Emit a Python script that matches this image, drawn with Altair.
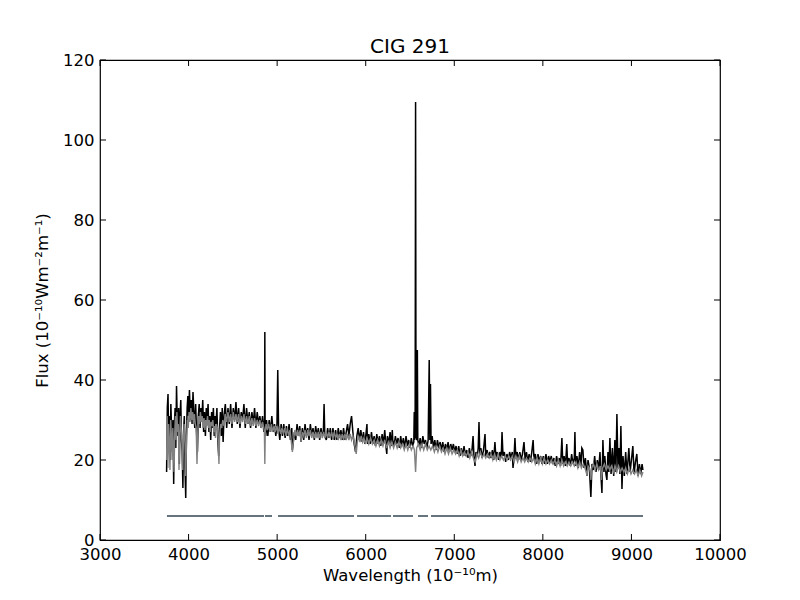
import altair as alt
import pandas as pd

black_blue = [[3752,17],[3760,33],[3768,36.5],[3776,24],[3784,31],[3792,20],[3800,34],[3808,28],[3816,22],[3824,30],
 [3832,14],[3840,29],[3848,33],[3856,23],[3864,38.5],[3872,30],[3880,26],[3888,33],[3896,19],[3904,31],[3912,35],
 [3920,25],[3928,22],[3936,13],[3944,27],[3952,31],[3960,18],[3968,10.5],[3976,26],[3984,33],[3992,36],[4000,31],
 [4010,37.5],[4020,30],[4030,35],[4040,29],[4050,37],[4060,32],[4070,28],[4080,34],[4090,27],[4100,22],[4110,31],
 [4120,34],[4130,28],[4140,33],[4150,30],[4160,35],[4170,27],[4180,32],[4190,26],[4200,33],[4210,29],[4220,34],
 [4230,27],[4240,31],[4250,25],[4260,32],[4270,28],[4280,33],[4290,26],[4300,31],[4310,29],[4320,33],[4330,25],
 [4340,21],[4350,28],[4360,32],[4370,26],[4380,33],[4390,24.5],[4400,31]]
black_mid = [[4415,34],[4430,28],[4445,33],[4460,29],[4475,34],[4490,28],[4505,33],[4520,30],[4535,34.5],[4550,29],
 [4565,33],[4580,28],[4595,32],[4610,30],[4625,34],[4640,28],[4655,33],[4670,29],[4685,32],[4700,28],[4715,32],
 [4730,29],[4745,33],[4760,28],[4775,32],[4790,29],[4805,31],[4820,28],[4835,31],[4850,27],[4858,30],[4861,52],
 [4864,29],[4872,26],[4880,30],[4895,26],[4910,30],[4925,27],[4940,31],[4955,27],[4970,29],[4985,26],[4998,29],
 [5007,42.5],[5016,28],[5030,25],[5045,29],[5060,26],[5075,29],[5090,25.5],[5105,28.5],[5120,26],[5135,29],
 [5150,25],[5165,28],[5172,22.5],[5180,24],[5195,27],[5210,25],[5225,29],[5240,26],[5255,28.5],[5270,24.5],
 [5285,28],[5300,25],[5315,29],[5330,26],[5345,28],[5360,25],[5375,29],[5390,26],[5405,28],[5420,25],[5435,28.5],
 [5450,26],[5465,28],[5480,25],[5495,28],[5510,26],[5522,27],[5530,34],[5538,26],[5555,25],[5570,28],[5585,25.5],
 [5600,28],[5615,25],[5630,28],[5645,25],[5660,27.5],[5675,25],[5690,28],[5705,25.5],[5720,27.5],[5735,25],
 [5750,28],[5765,25],[5780,27],[5795,29],[5810,26],[5825,29],[5840,31],[5855,27],[5870,24],[5885,22],[5900,26],
 [5915,28],[5930,25],[5945,27.5],[5960,24.5],[5975,27],[5990,24]]
black_halpha = [[6005,27],[6014,29],[6020,24],[6035,26.5],[6050,24],[6065,27],[6080,24],[6095,26],[6110,23.5],
 [6125,26.5],[6140,24],[6155,26],[6170,23.5],[6185,26.5],[6200,24],[6215,27.5],[6230,23],[6238,21.5],[6245,26],
 [6260,24],[6275,27],[6290,23.5],[6300,27.5],[6305,25],[6320,23.5],[6335,26],[6350,24],[6365,25.5],[6380,23],
 [6395,26],[6410,23.5],[6425,25.5],[6440,23],[6455,26],[6470,23.5],[6485,25],[6500,23],[6515,25.5],[6530,23.5],
 [6543,24.5],[6548,32],[6552,25],[6558,26],[6563,109.5],[6568,26],[6578,25],[6583,47.5],[6588,25],[6600,23.5],
 [6615,25.5],[6630,23],[6645,26],[6660,24],[6675,25],[6690,23],[6705,25],[6717,45],[6724,25],[6731,39],[6738,24],
 [6750,26],[6765,23],[6780,25],[6795,22.5],[6810,25],[6825,23],[6840,24.5],[6855,22.5],[6870,24.5],[6885,22],
 [6900,24],[6915,22.5],[6930,24.5],[6945,22],[6960,24],[6975,22.5],[6990,24],[7005,22],[7020,23.5]]
black_red = [[7035,21.5],[7050,23.5],[7065,21],[7080,23],[7095,21],[7110,23.5],[7125,21],[7140,22.5],[7155,20.5],
 [7170,23],[7185,21],[7200,22.5],[7212,26],[7222,21],[7234,18.5],[7245,22],[7260,21],[7270,23],[7279,29.5],
 [7288,21.5],[7300,23],[7315,20.5],[7330,22.5],[7347,26.5],[7355,21],[7370,22.5],[7385,20.5],[7400,22],[7415,20.5],
 [7430,22.5],[7445,20],[7459,24.5],[7470,20.5],[7485,22],[7500,20],[7515,22],[7530,20.5],[7539,27],[7550,21],
 [7565,22],[7580,19.5],[7595,21.5],[7610,20],[7625,22],[7640,20.5],[7655,22],[7663,18],[7675,21],[7685,25.5],
 [7695,20.5],[7710,22],[7725,20],[7740,22],[7755,20],[7770,21.5],[7787,24.5],[7800,20],[7815,22],[7830,19.5],
 [7845,21.5],[7860,19.5],[7875,22],[7890,25],[7900,20],[7915,21.5],[7930,19],[7945,21.5],[7960,19.5],[7975,21],
 [7990,19],[8005,21],[8020,19],[8035,21.5],[8050,19],[8065,21],[8080,19.5],[8095,21],[8110,19],[8125,20.5],
 [8140,18.5],[8155,21],[8170,19],[8185,20.5],[8200,18.5],[8215,25.5],[8225,19],[8240,21],[8255,18.5],[8270,24],
 [8280,19],[8295,20.5],[8310,18.5],[8325,21.5],[8340,19],[8355,20.5],[8362,27],[8370,18.5],[8385,21],[8400,18],
 [8415,22],[8430,18.5],[8440,23],[8452,22.5],[8465,18],[8480,20.5],[8498,16],[8510,20],[8525,18],[8542,10.75],
 [8555,19],[8570,17.5],[8585,21],[8600,17],[8615,20],[8630,17.5],[8645,22],[8655,16.5],[8667,11.75],[8678,25],
 [8690,17],[8700,21],[8712,16.5],[8723,15],[8735,22],[8745,17],[8757,25.5],[8770,16.5],[8785,23],[8800,16],
 [8813,25],[8825,17],[8836,31.5],[8848,18],[8860,23],[8870,16.5],[8881,28.5],[8893,12.75],[8905,21],[8920,16],
 [8935,22],[8950,16.5],[8971,23],[8985,17],[9000,20],[9016,23.5],[9030,16.5],[9045,19.5],[9061,21.5],[9075,16],
 [9090,19],[9105,16.5],[9120,19],[9130,17.5]]

# ---- model spectrum (grey)
gray_blue = [[3752,20],[3758,31],[3766,18],[3774,29],[3782,24],[3790,17.5],[3798,30],[3806,26],[3814,20],[3822,28],
 [3830,22],[3836,17],[3844,27],[3852,31],[3860,25],[3868,32],[3876,27],[3884,29],[3892,17.5],[3900,26],[3908,31],
 [3916,28],[3926,24],[3934,17.5],[3942,25],[3950,29],[3960,24],[3968,16],[3976,24],[3986,30],[3996,28],[4006,32],
 [4016,29.5],[4026,33],[4036,30],[4046,32],[4056,29],[4066,31.5],[4076,29],[4086,28],[4095,19],[4104,27],[4114,31],
 [4124,29],[4134,32],[4144,29.5],[4154,31],[4164,28],[4174,30.5],[4184,27.5],[4194,30],[4204,28.5],[4214,31],
 [4224,28],[4234,30],[4244,27],[4254,29.5],[4264,28.5],[4274,30],[4284,27],[4294,28.5],[4304,25.5],[4314,29],
 [4326,28],[4336,24],[4343,19],[4350,26],[4362,29],[4374,28],[4386,30],[4400,28.5]]
gray_mid = [[4415,31.5],[4430,29.5],[4445,32],[4460,29.5],[4475,31.5],[4490,29],[4505,32],[4520,29.5],[4535,31.5],
 [4550,29.5],[4565,31.5],[4580,29],[4595,31],[4610,29.5],[4625,31.5],[4640,29],[4655,31],[4670,29],[4685,31],
 [4700,28.5],[4715,30.5],[4730,28.5],[4745,30.5],[4760,28.5],[4775,30],[4790,28.5],[4805,30],[4820,28],[4835,29.5],
 [4850,28],[4856,27],[4861,19],[4866,27],[4875,29],[4890,27.5],[4905,29],[4920,27],[4935,29],[4950,27],[4965,28.5],
 [4980,27],[4995,28.5],[5010,26.5],[5025,28.5],[5040,26.5],[5055,28],[5070,26.5],[5085,28],[5100,26],[5115,28],
 [5130,26],[5145,27.5],[5160,24.5],[5172,22],[5185,25],[5200,27.5],[5215,26],[5230,27.5],[5245,26],[5260,27.5],
 [5270,24.5],[5285,27],[5300,26],[5315,27.5],[5330,25.5],[5345,27.5],[5360,26],[5375,27.5],[5390,25.5],[5405,27],
 [5420,25.5],[5435,27],[5450,25.5],[5465,27],[5480,25.5],[5495,27],[5510,25.5],[5525,27],[5540,25.5],[5555,27],
 [5570,25.5],[5585,27],[5600,25.5],[5615,27],[5630,25.5],[5645,27],[5660,25.5],[5675,26.5],[5690,25],[5705,26.5],
 [5720,25],[5735,26.5],[5750,25],[5765,26.5],[5780,25],[5795,26.5],[5810,25],[5825,26.5],[5840,25],[5855,26],
 [5870,24.5],[5885,22.5],[5893,21.5],[5905,24.5],[5920,26],[5935,24.5],[5950,26],[5965,24.5],[5980,25.5],[5995,24]]
gray_red = [[6015,25.5],[6035,24],[6055,25.5],[6075,24],[6095,25],[6115,23.5],[6135,25],[6155,23.5],[6175,25],
 [6195,23.5],[6215,25],[6235,23],[6255,24.5],[6275,23],[6295,24.5],[6315,23],[6335,24.5],[6355,23],[6375,24.5],
 [6395,23],[6415,24],[6435,22.5],[6455,24],[6475,22.5],[6495,24],[6515,22.5],[6535,23.5],[6550,22.5],[6563,17],
 [6575,23],[6595,24],[6615,22.5],[6635,24],[6655,22.5],[6675,24],[6695,22.5],[6715,23.5],[6735,22.5],[6755,23.5],
 [6775,22],[6795,23.5],[6815,22],[6835,23.5],[6855,22],[6875,23],[6895,21.5],[6915,23],[6935,21.5],[6955,23],
 [6975,21.5],[6995,22.5],[7015,21.5],[7035,22.5],[7055,21],[7075,22.5],[7095,21],[7115,22],[7135,21],[7155,22],
 [7175,20.5],[7195,22],[7215,20.5],[7235,19.5],[7255,21.5],[7275,20.5],[7295,22],[7315,20.5],[7335,21.5],
 [7355,20.5],[7375,21.5],[7395,20.5],[7415,21.5],[7435,20],[7455,21.5],[7475,20],[7495,21.5],[7515,20],[7535,21],
 [7555,20],[7575,21],[7595,20],[7615,21],[7635,20],[7655,21],[7675,19.5],[7695,21],[7715,19.5],[7735,21],
 [7755,19.5],[7775,20.5],[7795,19.5],[7815,20.5],[7835,19.5],[7855,20.5],[7875,19.5],[7895,20.5],[7915,19],
 [7935,20.5],[7955,19],[7975,20.5],[7995,19],[8015,20.5],[8035,19],[8055,20],[8075,19],[8095,20],[8115,19],
 [8135,20],[8155,18.5],[8175,20],[8195,18.5],[8215,20],[8235,18.5],[8255,19.5],[8275,18.5],[8295,19.5],[8315,18.5],
 [8335,19.5],[8355,18.5],[8375,19.5],[8395,18],[8415,19.5],[8435,18],[8455,19],[8475,18],[8490,17],[8498,16],
 [8510,18.5],[8525,18],[8535,17],[8542,15],[8552,18],[8570,19],[8590,17.5],[8610,19],[8630,17.5],[8650,18.5],
 [8662,15],[8675,18],[8695,19],[8715,17.5],[8735,18.5],[8755,17.5],[8775,18.5],[8795,17],[8815,18.5],[8835,17],
 [8855,18.5],[8875,17],[8895,18],[8915,17],[8935,18],[8955,16.5],[8975,18],[8995,16.5],[9015,17.5],[9035,16.5],
 [9055,17.5],[9075,16],[9095,17.5],[9115,16],[9130,17]]

# ---- masked-region bar at flux 6 (segment start / end wavelengths)
mask_start = [3756, 4863, 5010, 5902, 6308, 6590, 6737]
mask_end   = [4852, 4942, 5868, 6286, 6534, 6703, 9131]
mask_level = 6

x_ticks = [3000, 4000, 5000, 6000, 7000, 8000, 9000, 10000]
y_ticks = [0, 20, 40, 60, 80, 100, 120]

W, H = 620, 480
FONT = "DejaVu Sans"

black = pd.DataFrame(black_blue + black_mid + black_halpha + black_red, columns=["w", "f"])
gray = pd.DataFrame(gray_blue + gray_mid + gray_red, columns=["w", "f"])
mask = pd.DataFrame({"s": mask_start, "e": mask_end, "y": [mask_level] * len(mask_start)})
xt = pd.DataFrame({"t": x_ticks})
yt = pd.DataFrame({"t": y_ticks})

xscale = alt.Scale(domain=[3000, 10000], nice=False, zero=False)
yscale = alt.Scale(domain=[0, 120], nice=False)

xaxis = alt.Axis(values=x_ticks, format="d", grid=False, ticks=False, domain=False,
                 labelFont=FONT, labelFontSize=16.5, labelColor="black", labelPadding=6,
                 labelFlush=False, labelOverlap=False,
                 title="Wavelength (10⁻¹⁰m)", titleFont=FONT, titleFontSize=16.5,
                 titleFontWeight="normal", titleColor="black", titlePadding=5)
yaxis = alt.Axis(values=y_ticks, grid=False, ticks=False, domain=False,
                 labelFont=FONT, labelFontSize=16.5, labelColor="black", labelPadding=6,
                 labelFlush=False, labelOverlap=False,
                 title="Flux (10⁻¹⁰Wm⁻²m⁻¹)", titleFont=FONT, titleFontSize=16.5,
                 titleFontWeight="normal", titleColor="black", titlePadding=12)

obs = alt.Chart(black).mark_line(color="black", strokeWidth=1.5).encode(
    x=alt.X("w:Q", scale=xscale, axis=xaxis),
    y=alt.Y("f:Q", scale=yscale, axis=yaxis),
)
model = alt.Chart(gray).mark_line(color="#808080", strokeWidth=1.4).encode(
    x=alt.X("w:Q", scale=xscale), y=alt.Y("f:Q", scale=yscale))
bars = alt.Chart(mask).mark_rule(color="#66757d", strokeWidth=2).encode(
    x=alt.X("s:Q", scale=xscale), x2="e:Q", y=alt.Y("y:Q", scale=yscale))

tick_bottom = alt.Chart(xt).mark_rule(color="black", strokeWidth=1).encode(
    x=alt.X("t:Q", scale=xscale), y=alt.value(H), y2=alt.value(H - 6))
tick_top = alt.Chart(xt).mark_rule(color="black", strokeWidth=1).encode(
    x=alt.X("t:Q", scale=xscale), y=alt.value(0), y2=alt.value(6))
tick_left = alt.Chart(yt).mark_rule(color="black", strokeWidth=1).encode(
    y=alt.Y("t:Q", scale=yscale), x=alt.value(0), x2=alt.value(6))
tick_right = alt.Chart(yt).mark_rule(color="black", strokeWidth=1).encode(
    y=alt.Y("t:Q", scale=yscale), x=alt.value(W), x2=alt.value(W - 6))

chart = alt.layer(obs, model, bars, tick_bottom, tick_top, tick_left, tick_right).properties(
    width=W, height=H,
    title=alt.TitleParams("CIG 291", font=FONT, fontSize=20, fontWeight="normal",
                          color="black", offset=-5, anchor="middle"),
    autosize=alt.AutoSizeParams(type="none"),
    padding={"left": 92, "top": 52, "right": 72, "bottom": 52},
).configure(background="white").configure_view(stroke="black", strokeWidth=1.2)

chart.save("out.html", embed_options={"renderer": "svg", "actions": False})
